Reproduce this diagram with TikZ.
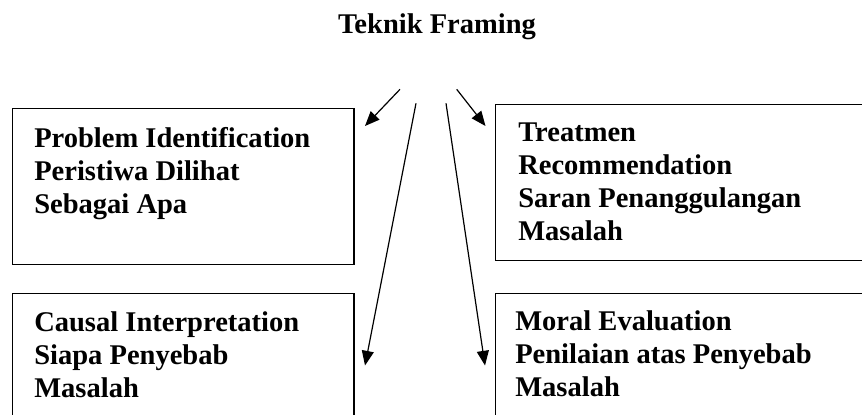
\documentclass[tikz,border=0pt]{standalone}
\usepackage{fontspec}
\setmainfont{Liberation Serif}
\usetikzlibrary{arrows.meta}

\tikzset{
  box/.style={draw, line width=1.1pt, anchor=north west, inner sep=0pt},
  lbl/.style={anchor=north west, inner sep=0pt, align=left,
    font=\fontsize{21.4pt}{24.75pt}\selectfont\bfseries},
  arr/.style={-{Triangle[length=11pt,width=9pt]}, line width=0.9pt}
}

\begin{document}
\begin{tikzpicture}[x=0.75pt, y=-0.75pt]

\useasboundingbox (0,0) rectangle (862,414);
\clip (0,0) rectangle (862,414);

\node (title) at (437, 33) [anchor=base, inner sep=0pt,
  font=\fontsize{21.4pt}{24.75pt}\selectfont\bfseries] {Teknik Framing};

\node (prob) at (12, 108) [box, minimum width=256.1pt, minimum height=117pt]{};
\node (treat) at (495, 104) [box, minimum width=288.75pt, minimum height=117pt]{};
\node (causal) at (12, 293) [box, minimum width=256.1pt, minimum height=110pt]{};
\node (moral) at (494.7, 293) [box, minimum width=288.75pt, minimum height=110pt]{};

\node (probtext) at (34, 127.6) [lbl]{Problem Identification\\Peristiwa Dilihat\\Sebagai Apa};
\node (treattext) at (518, 122.6) [lbl]{Treatmen\\Recommendation\\Saran Penanggulangan\\Masalah};
\node (causaltext) at (34, 311.6) [lbl]{Causal Interpretation\\Siapa Penyebab\\Masalah};
\node (moraltext) at (515, 310.6) [lbl]{Moral Evaluation\\Penilaian atas Penyebab\\Masalah};

\coordinate (s1) at (400, 89.3);
\coordinate (s2) at (456.7, 89.3);
\coordinate (s3) at (416, 103.3);
\coordinate (s4) at (446, 103.3);

\coordinate (t1) at (365, 126);
\coordinate (t2) at (485.5, 126);
\coordinate (t3) at (365, 365.5);
\coordinate (t4) at (485, 365.5);

\draw [arr] (s1) -- (t1);
\draw [arr] (s2) -- (t2);
\draw [arr] (s3) -- (t3);
\draw [arr] (s4) -- (t4);

\end{tikzpicture}
\end{document}
